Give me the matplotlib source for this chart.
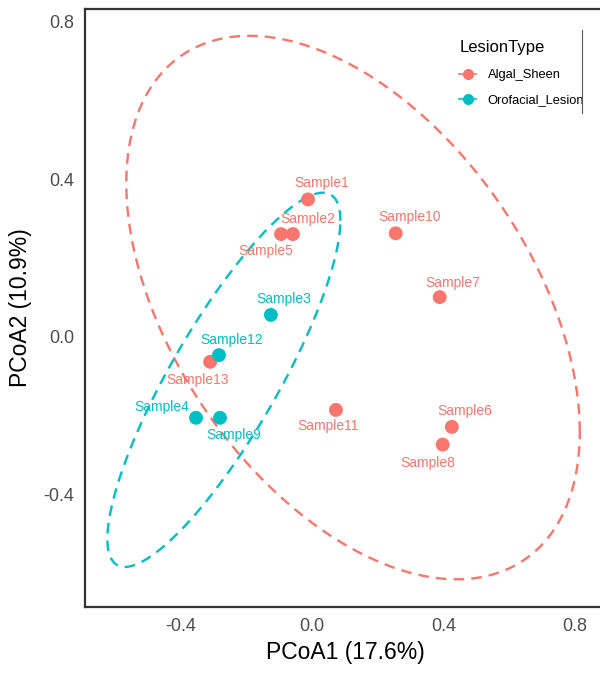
import numpy as np
import matplotlib
matplotlib.use("Agg")
import matplotlib.pyplot as plt
from matplotlib.lines import Line2D

# ---------------- data ----------------
samples = ["Sample1", "Sample2", "Sample5", "Sample10", "Sample7", "Sample3",
           "Sample12", "Sample13", "Sample4", "Sample9", "Sample11", "Sample6", "Sample8"]
pcoa1 = [-0.012, -0.058, -0.094, 0.255, 0.389, -0.125,
         -0.283, -0.310, -0.353, -0.280, 0.073, 0.426, 0.398]
pcoa2 = [0.349, 0.261, 0.261, 0.263, 0.101, 0.056,
         -0.046, -0.063, -0.205, -0.205, -0.185, -0.228, -0.273]
group = ["Algal_Sheen", "Algal_Sheen", "Algal_Sheen", "Algal_Sheen", "Algal_Sheen",
         "Orofacial_Lesion", "Orofacial_Lesion", "Algal_Sheen", "Orofacial_Lesion",
         "Orofacial_Lesion", "Algal_Sheen", "Algal_Sheen", "Algal_Sheen"]
groups = ["Algal_Sheen", "Orofacial_Lesion"]
colors = {"Algal_Sheen": "#F8766D", "Orofacial_Lesion": "#00BFC4"}
# label offsets in pixels (dx, dy)
label_off = {"Sample1": (14, 16), "Sample2": (15, 15), "Sample5": (-15, -17),
             "Sample10": (14, 16), "Sample7": (13, 14), "Sample3": (13, 16),
             "Sample12": (13, 15), "Sample13": (-13, -18), "Sample4": (-34, 11),
             "Sample9": (14, -17), "Sample11": (-8, -16), "Sample6": (13, 16),
             "Sample8": (-15, -18)}

plt.rcParams['font.family'] = ['Liberation Sans', 'DejaVu Sans']


def cov_trob(x, nu=5, maxit=25, tol=0.01):
    n, p = x.shape
    wt = np.ones(n)
    loc = (wt[:, None] * x).sum(0) / wt.sum()
    w = np.sqrt(wt)
    for _ in range(maxit):
        w0 = w
        X = x - loc
        U, d, Vt = np.linalg.svd(np.sqrt(w / w.sum())[:, None] * X, full_matrices=False)
        wX = X @ Vt.T @ np.diag(1 / d)
        Q = (wX ** 2).sum(1)
        w = (wt * (nu + p)) / (nu + Q)
        loc = (w[:, None] * x).sum(0) / w.sum()
        if np.all(np.abs(w - w0) < tol):
            break
    X = x - loc
    cov = (np.sqrt(w)[:, None] * X).T @ (np.sqrt(w)[:, None] * X) / wt.sum()
    return loc, cov


def stat_ellipse(x, level=0.95):
    n = x.shape[0]
    dfn, dfd = 2, n - 1
    center, shape = cov_trob(x)
    fq = (dfd / 2.0) * ((1 - level) ** (-2.0 / dfd) - 1)
    radius = np.sqrt(dfn * fq)
    chol = np.linalg.cholesky(shape).T
    ang = np.linspace(0, 2 * np.pi, 201)
    circ = np.column_stack([np.cos(ang), np.sin(ang)])
    return center + radius * (circ @ chol)


fig = plt.figure(figsize=(6.0, 6.76), dpi=100)
ax = fig.add_axes([85 / 600, 1 - 607 / 676, 1 - 85 / 600 + 0.01, (607 - 9) / 676])

xs = np.array(pcoa1)
ys = np.array(pcoa2)
gs = np.array(group)

for g in groups:
    m = gs == g
    pts = np.column_stack([xs[m], ys[m]])
    ell = stat_ellipse(pts)
    ax.plot(ell[:, 0], ell[:, 1], color=colors[g], lw=1.7, ls=(0, (4.5, 3)), zorder=2)

for g in groups:
    m = gs == g
    ax.scatter(xs[m], ys[m], s=100, color=colors[g], edgecolors='none', zorder=3)

for s, x, y, g in zip(samples, pcoa1, pcoa2, group):
    dx, dy = label_off[s]
    ax.annotate(s, (x, y), xytext=(dx, dy), textcoords='offset pixels',
                ha='center', va='center', fontsize=10, color=colors[g], zorder=4)

ax.set_xlim(-0.691, 0.877 + 0.01 * 1.568 / (1 - 85 / 600))
ax.set_ylim(-0.685, 0.832)
ax.set_xticks([-0.4, 0.0, 0.4, 0.8])
ax.set_yticks([-0.4, 0.0, 0.4, 0.8])
ax.set_xticklabels(["-0.4", "0.0", "0.4", "0.8"])
ax.set_yticklabels(["-0.4", "0.0", "0.4", "0.8"])
ax.tick_params(length=0, labelsize=13, labelcolor='#4D4D4D', pad=8)
for sp in ['left', 'bottom', 'top']:
    ax.spines[sp].set_color('#333333')
    ax.spines[sp].set_linewidth(1.6)
ax.spines['right'].set_visible(False)
ax.set_xlabel("PCoA1 (17.6%)", fontsize=16.5, color='black', labelpad=4)
ax.set_ylabel("PCoA2 (10.9%)", fontsize=16.5, color='black', labelpad=8)

handles = [Line2D([0], [0], color=colors[g], marker='o', markersize=8, lw=1.2,
                  markeredgewidth=0) for g in groups]
leg = ax.legend(handles, groups, title="LesionType", loc='upper left',
                bbox_to_anchor=(453 / 600, 1 - 34 / 676), bbox_transform=fig.transFigure,
                frameon=False, fontsize=9.3, title_fontsize=12, handlelength=1.3,
                handletextpad=0.9, labelspacing=1.0, borderpad=0)
leg._legend_box.align = "left"
leg._legend_box.sep = 10
fig.add_artist(Line2D([582 / 600, 582 / 600], [1 - 30 / 676, 1 - 113 / 676],
                      color='#555555', lw=0.8, transform=fig.transFigure))

fig.savefig("out.png", dpi=100)
